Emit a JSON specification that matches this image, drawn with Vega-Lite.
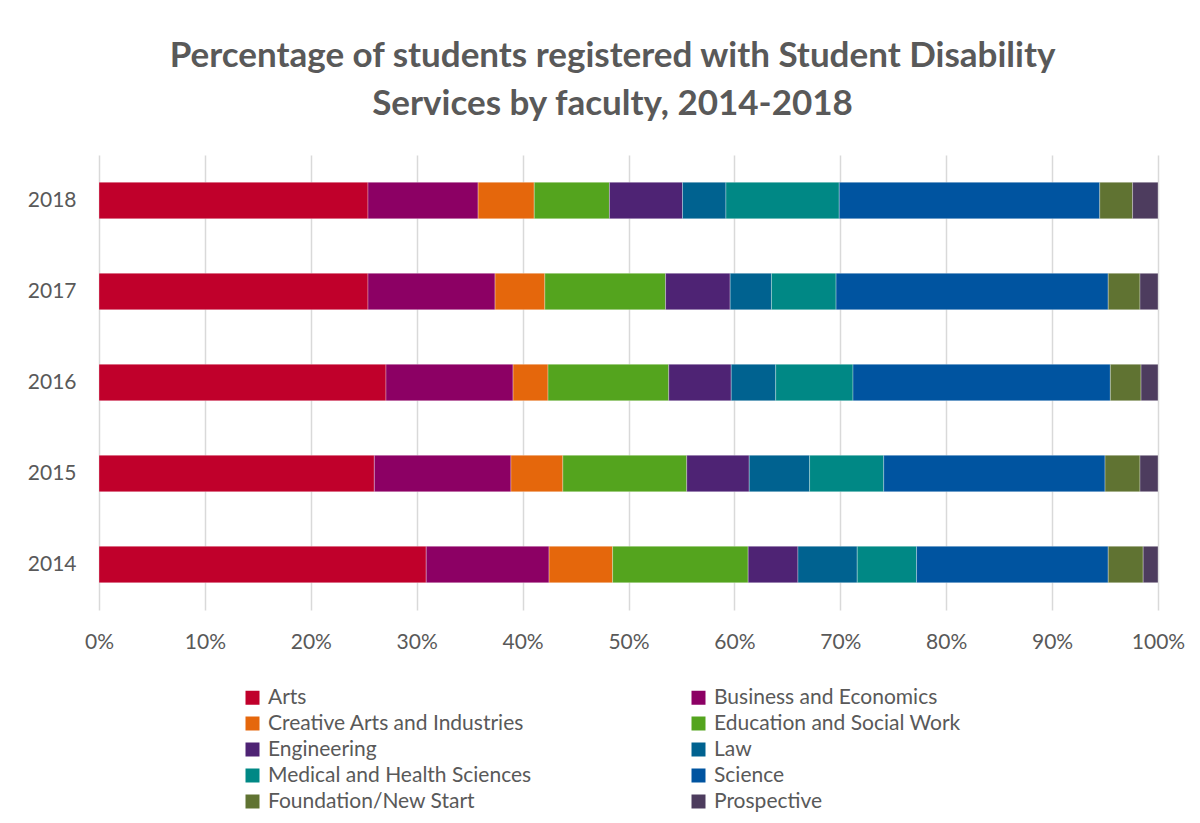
{
  "$schema": "https://vega.github.io/schema/vega-lite/v6.json",
  "width": 1059,
  "height": 455,
  "autosize": {"type": "none"},
  "padding": {"left": 99, "top": 155, "right": 42, "bottom": 213},
  "background": "white",
  "title": {
    "text": ["Percentage of students registered with Student Disability", "Services by faculty, 2014-2018"],
    "font": "Lato",
    "fontSize": 35,
    "fontWeight": "bold",
    "color": "#595959",
    "anchor": "middle",
    "dx": -16,
    "lineHeight": 48,
    "offset": 33
  },
  "config": {
    "view": {"stroke": null},
    "axis": {"labelFont": "Lato", "labelColor": "#595959", "labelFontSize": 21},
    "legend": {"labelFont": "Lato", "labelColor": "#595959", "labelFontSize": 21}
  },
  "data": {
    "values": [
      {"year": "2018", "faculty": "Arts", "ord": 1, "pct": 25.4},
      {"year": "2018", "faculty": "Business and Economics", "ord": 2, "pct": 10.4},
      {"year": "2018", "faculty": "Creative Arts and Industries", "ord": 3, "pct": 5.3},
      {"year": "2018", "faculty": "Education and Social Work", "ord": 4, "pct": 7.1},
      {"year": "2018", "faculty": "Engineering", "ord": 5, "pct": 6.9},
      {"year": "2018", "faculty": "Law", "ord": 6, "pct": 4.1},
      {"year": "2018", "faculty": "Medical and Health Sciences", "ord": 7, "pct": 10.7},
      {"year": "2018", "faculty": "Science", "ord": 8, "pct": 24.6},
      {"year": "2018", "faculty": "Foundation/New Start", "ord": 9, "pct": 3.1},
      {"year": "2018", "faculty": "Prospective", "ord": 10, "pct": 2.4},
      {"year": "2017", "faculty": "Arts", "ord": 1, "pct": 25.4},
      {"year": "2017", "faculty": "Business and Economics", "ord": 2, "pct": 12.0},
      {"year": "2017", "faculty": "Creative Arts and Industries", "ord": 3, "pct": 4.7},
      {"year": "2017", "faculty": "Education and Social Work", "ord": 4, "pct": 11.4},
      {"year": "2017", "faculty": "Engineering", "ord": 5, "pct": 6.1},
      {"year": "2017", "faculty": "Law", "ord": 6, "pct": 3.9},
      {"year": "2017", "faculty": "Medical and Health Sciences", "ord": 7, "pct": 6.1},
      {"year": "2017", "faculty": "Science", "ord": 8, "pct": 25.7},
      {"year": "2017", "faculty": "Foundation/New Start", "ord": 9, "pct": 3.0},
      {"year": "2017", "faculty": "Prospective", "ord": 10, "pct": 1.7},
      {"year": "2016", "faculty": "Arts", "ord": 1, "pct": 27.1},
      {"year": "2016", "faculty": "Business and Economics", "ord": 2, "pct": 12.0},
      {"year": "2016", "faculty": "Creative Arts and Industries", "ord": 3, "pct": 3.3},
      {"year": "2016", "faculty": "Education and Social Work", "ord": 4, "pct": 11.4},
      {"year": "2016", "faculty": "Engineering", "ord": 5, "pct": 5.9},
      {"year": "2016", "faculty": "Law", "ord": 6, "pct": 4.2},
      {"year": "2016", "faculty": "Medical and Health Sciences", "ord": 7, "pct": 7.3},
      {"year": "2016", "faculty": "Science", "ord": 8, "pct": 24.3},
      {"year": "2016", "faculty": "Foundation/New Start", "ord": 9, "pct": 2.9},
      {"year": "2016", "faculty": "Prospective", "ord": 10, "pct": 1.6},
      {"year": "2015", "faculty": "Arts", "ord": 1, "pct": 26.0},
      {"year": "2015", "faculty": "Business and Economics", "ord": 2, "pct": 12.9},
      {"year": "2015", "faculty": "Creative Arts and Industries", "ord": 3, "pct": 4.9},
      {"year": "2015", "faculty": "Education and Social Work", "ord": 4, "pct": 11.7},
      {"year": "2015", "faculty": "Engineering", "ord": 5, "pct": 5.9},
      {"year": "2015", "faculty": "Law", "ord": 6, "pct": 5.7},
      {"year": "2015", "faculty": "Medical and Health Sciences", "ord": 7, "pct": 7.0},
      {"year": "2015", "faculty": "Science", "ord": 8, "pct": 20.9},
      {"year": "2015", "faculty": "Foundation/New Start", "ord": 9, "pct": 3.3},
      {"year": "2015", "faculty": "Prospective", "ord": 10, "pct": 1.7},
      {"year": "2014", "faculty": "Arts", "ord": 1, "pct": 30.9},
      {"year": "2014", "faculty": "Business and Economics", "ord": 2, "pct": 11.6},
      {"year": "2014", "faculty": "Creative Arts and Industries", "ord": 3, "pct": 6.0},
      {"year": "2014", "faculty": "Education and Social Work", "ord": 4, "pct": 12.8},
      {"year": "2014", "faculty": "Engineering", "ord": 5, "pct": 4.7},
      {"year": "2014", "faculty": "Law", "ord": 6, "pct": 5.6},
      {"year": "2014", "faculty": "Medical and Health Sciences", "ord": 7, "pct": 5.6},
      {"year": "2014", "faculty": "Science", "ord": 8, "pct": 18.1},
      {"year": "2014", "faculty": "Foundation/New Start", "ord": 9, "pct": 3.3},
      {"year": "2014", "faculty": "Prospective", "ord": 10, "pct": 1.4}
    ]
  },
  "mark": {"type": "bar", "stroke": "#ffffff", "strokeWidth": 0.6, "strokeOpacity": 0.5},
  "encoding": {
    "y": {
      "field": "year",
      "type": "ordinal",
      "sort": "descending",
      "scale": {"paddingInner": 0.6, "paddingOuter": 0.3},
      "axis": {"title": null, "ticks": false, "domain": false, "labelPadding": 23}
    },
    "x": {
      "field": "pct",
      "type": "quantitative",
      "stack": "normalize",
      "scale": {"domain": [0, 1]},
      "axis": {
        "title": null,
        "format": ".0%",
        "values": [0, 0.1, 0.2, 0.3, 0.4, 0.5, 0.6, 0.7, 0.8, 0.9, 1],
        "ticks": false,
        "domain": false,
        "grid": true,
        "gridColor": "#D9D9D9",
        "gridWidth": 1.5,
        "labelPadding": 21,
        "labelFlush": false,
        "labelOverlap": false,
        "labelBound": false
      }
    },
    "order": {"field": "ord", "type": "quantitative"},
    "color": {
      "field": "faculty",
      "type": "nominal",
      "sort": ["Arts", "Creative Arts and Industries", "Engineering", "Medical and Health Sciences", "Foundation/New Start", "Business and Economics", "Education and Social Work", "Law", "Science", "Prospective"],
      "scale": {
        "domain": ["Arts", "Creative Arts and Industries", "Engineering", "Medical and Health Sciences", "Foundation/New Start", "Business and Economics", "Education and Social Work", "Law", "Science", "Prospective"],
        "range": ["#C0002B", "#E5670C", "#4E2374", "#008885", "#607332", "#8C0064", "#54A41E", "#006290", "#0054A0", "#4D3C5E"]
      },
      "legend": {
        "title": null,
        "orient": "none",
        "legendX": 143,
        "legendY": 532,
        "columns": 2,
        "columnPadding": 156,
        "rowPadding": 4,
        "symbolType": "square",
        "symbolSize": 196,
        "symbolStrokeWidth": 0,
        "labelOffset": 5,
        "labelLimit": 400
      }
    }
  }
}
